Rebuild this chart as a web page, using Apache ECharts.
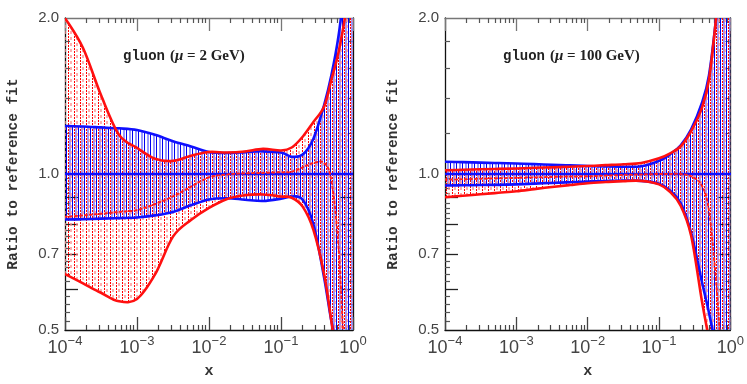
<!DOCTYPE html>
<html>
<head>
<meta charset="utf-8">
<script src="https://cdn.jsdelivr.net/npm/echarts@6/dist/echarts.min.js"></script>
<style>
  html, body { margin: 0; padding: 0; background: #fff; }
  #main { width: 747px; height: 384px; }
</style>
</head>
<body>
<div id="main"></div>
<script>
// x grid shared by all curves
var xs = [1e-4, 1.78e-4, 3.16e-4, 5.62e-4, 1e-3, 1.78e-3, 3.16e-3, 5.62e-3, 1e-2, 1.78e-2, 3.16e-2, 5.62e-2,
          0.1, 0.141, 0.2, 0.282, 0.398, 0.501, 0.631, 0.794, 1.0];

// gluon, mu = 2 GeV
var blueUp2  = [1.238, 1.235, 1.23, 1.225, 1.216, 1.19, 1.157, 1.13, 1.103, 1.098, 1.102, 1.106, 1.10, 1.08, 1.09, 1.17, 1.36, 1.55, 1.85, 2.4, 3.2];
var blueLo2  = [0.817, 0.818, 0.82, 0.822, 0.824, 0.832, 0.845, 0.87, 0.893, 0.898, 0.892, 0.887, 0.896, 0.905, 0.892, 0.80, 0.63, 0.52, 0.45, 0.38, 0.3];
var redUp2   = [2.0, 1.75, 1.42, 1.19, 1.123, 1.07, 1.06, 1.085, 1.103, 1.10, 1.105, 1.118, 1.11, 1.125, 1.18, 1.26, 1.35, 1.52, 1.72, 2.05, 2.6];
var redLo2   = [0.641, 0.615, 0.59, 0.568, 0.574, 0.64, 0.757, 0.815, 0.86, 0.895, 0.91, 0.913, 0.905, 0.90, 0.865, 0.78, 0.64, 0.52, 0.42, 0.35, 0.3];
var redMid2  = [0.827, 0.832, 0.838, 0.845, 0.852, 0.875, 0.905, 0.945, 0.985, 0.998, 1.003, 1.005, 1.008, 1.01, 1.03, 1.05, 1.05, 0.97, 0.72, 0.4, 0.3];

// gluon, mu = 100 GeV
var blueUp100 = [1.056, 1.054, 1.052, 1.05, 1.048, 1.045, 1.042, 1.039, 1.036, 1.034, 1.033, 1.035, 1.06, 1.09, 1.135, 1.22, 1.37, 1.55, 2.0, 2.8, 4.0];
var blueLo100 = [0.95, 0.951, 0.952, 0.953, 0.955, 0.958, 0.961, 0.964, 0.967, 0.969, 0.971, 0.97, 0.958, 0.93, 0.88, 0.77, 0.62, 0.54, 0.46, 0.38, 0.3];
var redUp100  = [1.017, 1.019, 1.021, 1.023, 1.025, 1.028, 1.03, 1.033, 1.036, 1.04, 1.044, 1.05, 1.072, 1.095, 1.13, 1.21, 1.34, 1.52, 2.0, 2.8, 4.0];
var redLo100  = [0.902, 0.908, 0.914, 0.92, 0.926, 0.935, 0.944, 0.952, 0.96, 0.965, 0.969, 0.97, 0.955, 0.925, 0.87, 0.76, 0.57, 0.48, 0.4, 0.34, 0.3];
var redMid100 = [0.975, 0.977, 0.979, 0.981, 0.983, 0.985, 0.987, 0.989, 0.99, 0.993, 0.996, 0.998, 1.0, 1.0, 1.0, 0.99, 0.95, 0.85, 0.62, 0.4, 0.3];

var refLine = [1, 1, 1, 1, 1, 1, 1, 1, 1, 1, 1, 1, 1, 1, 1, 1, 1, 1, 1, 1, 1];
var titles = ['2 GeV', '100 GeV'];

// ticks
var yLabelVals = [0.5, 0.7, 1.0, 2.0];
var yLongTicks = [0.6, 0.7, 0.8, 0.9];
var yShortTicks = [1.2, 1.4, 1.6, 1.8, 0.52, 0.54, 0.56, 0.58, 0.62, 0.64, 0.66, 0.68, 0.72, 0.74, 0.76, 0.78,
                   0.82, 0.84, 0.86, 0.88, 0.92, 0.94, 0.96, 0.98];
var xDecades = [-4, -3, -2, -1, 0];
var xMinor = [];
xDecades.slice(0, 4).forEach(function (d) {
  for (var k = 2; k <= 9; k++) xMinor.push(d + Math.log10(k));
});

var L = function (v) { return Math.log10(v); };
var yMin = L(0.5), yMax = L(2);

function hatch(kind) {
  var c = document.createElement('canvas');
  c.width = 6; c.height = 6;
  var g = c.getContext('2d');
  if (kind === 'blue') {
    g.fillStyle = '#0000f0';
    g.fillRect(0, 0, 1, 6);
    g.fillStyle = 'rgba(120,120,255,0.75)';
    g.fillRect(3, 0, 2, 6);
  } else {
    g.fillStyle = '#ff0000';
    g.fillRect(2, 0, 1, 2);
    g.fillRect(2, 3, 1, 2);
    g.fillStyle = 'rgba(255,140,140,0.7)';
    g.fillRect(4, 1, 2, 3);
  }
  return c;
}
var blueHatch = hatch('blue'), redHatch = hatch('red');

// catmull-rom through pixel points, as svg path commands
function spline(p, start) {
  var s = (start ? 'M' : 'L') + p[0][0] + ' ' + p[0][1];
  for (var i = 0; i < p.length - 1; i++) {
    var p0 = p[i - 1] || p[i], p1 = p[i], p2 = p[i + 1], p3 = p[i + 2] || p[i + 1];
    s += ' C' + (p1[0] + (p2[0] - p0[0]) / 6) + ' ' + (p1[1] + (p2[1] - p0[1]) / 6) + ' ' +
         (p2[0] - (p3[0] - p1[0]) / 6) + ' ' + (p2[1] - (p3[1] - p1[1]) / 6) + ' ' + p2[0] + ' ' + p2[1];
  }
  return s;
}

var grids = [
  { left: 65, right: 394, top: 18, bottom: 49 },
  { left: 445, right: 14, top: 18, bottom: 49 }
];

var xAxes = [], yAxes = [], series = [];
var monoFont = '"Liberation Mono", "DejaVu Sans Mono", monospace';

function bandSeries(gi, up, lo, pat) {
  var rows = xs.map(function (x, i) { return [L(x), L(lo[i]), L(up[i])]; });
  return {
    type: 'custom', xAxisIndex: gi * 4, yAxisIndex: gi * 4, silent: true, clip: true,
    data: rows, encode: { x: 0, y: [1, 2] },
    renderItem: function (params, api) {
      if (params.dataIndex !== 0) return null;
      var top = rows.map(function (r) { return api.coord([r[0], r[2]]); });
      var bot = rows.map(function (r) { return api.coord([r[0], r[1]]); }).reverse();
      return {
        type: 'path',
        shape: { pathData: spline(top, true) + ' ' + spline(bot, false) + ' Z' },
        style: { fill: { image: pat, repeat: 'repeat' }, stroke: null }
      };
    }
  };
}

function curveSeries(gi, ys, color, width, dash) {
  var rows = xs.map(function (x, i) { return [L(x), L(ys[i])]; });
  return {
    type: 'custom', xAxisIndex: gi * 4, yAxisIndex: gi * 4, silent: true, clip: true,
    data: rows, encode: { x: 0, y: 1 },
    renderItem: function (params, api) {
      if (params.dataIndex !== 0) return null;
      var p = rows.map(function (r) { return api.coord(r); });
      return {
        type: 'path',
        shape: { pathData: spline(p, true) },
        style: { fill: null, stroke: color, lineWidth: width, lineDash: dash || null, lineCap: 'round' }
      };
    }
  };
}

grids.forEach(function (gr, gi) {
  var base = {
    gridIndex: gi, type: 'value', min: -4, max: 0,
    splitLine: { show: false }, axisLabel: { show: false }
  };
  xAxes.push(Object.assign({}, base, {
    position: 'bottom',
    axisLine: { show: true, onZero: false, lineStyle: { color: '#111', width: 1.3 } },
    axisTick: { inside: true, length: 13, customValues: xDecades, lineStyle: { color: '#444', width: 1.3 } },
    axisLabel: {
      show: true, customValues: xDecades, margin: 3, showMinLabel: true, showMaxLabel: true,
      formatter: function (v) {
        var e = Math.round(v);
        return '{b|10}{s|' + (e === 0 ? '0' : '\u2212' + (-e)) + '}';
      },
      rich: {
        b: { fontSize: 18, fontFamily: 'Liberation Sans', color: '#444', padding: [6, 0, 0, 0] },
        s: { fontSize: 13, fontFamily: 'Liberation Sans', color: '#444', padding: [0, 0, 8, 0] }
      }
    },
    name: 'x', nameLocation: 'middle', nameGap: 34,
    nameTextStyle: { fontFamily: monoFont, fontWeight: 'bold', fontSize: 15, color: '#333' }
  }));
  xAxes.push(Object.assign({}, base, {
    position: 'bottom',
    axisLine: { show: false, onZero: false },
    axisTick: { inside: true, length: 5, customValues: xMinor, lineStyle: { color: '#444', width: 1.2 } }
  }));
  xAxes.push(Object.assign({}, base, {
    position: 'top',
    axisLine: { show: true, onZero: false, lineStyle: { color: '#777', width: 1.3 } },
    axisTick: { inside: true, length: 13, customValues: xDecades, lineStyle: { color: '#777', width: 1.3 } }
  }));
  xAxes.push(Object.assign({}, base, {
    position: 'top',
    axisLine: { show: false, onZero: false },
    axisTick: { inside: true, length: 5, customValues: xMinor, lineStyle: { color: '#555', width: 1.2 } }
  }));

  var ybase = {
    gridIndex: gi, type: 'value', min: yMin, max: yMax,
    splitLine: { show: false }, axisLabel: { show: false }
  };
  yAxes.push(Object.assign({}, ybase, {
    position: 'left',
    axisLine: { show: true, onZero: false, lineStyle: { color: '#111', width: 1.3 } },
    axisTick: { inside: true, length: 13, customValues: yLongTicks.map(L), lineStyle: { color: '#222', width: 1.3 } },
    axisLabel: {
      show: true, customValues: yLabelVals.map(L), margin: 6,
      formatter: function (v) { return Math.pow(10, v).toFixed(1); },
      fontFamily: 'Liberation Sans', fontSize: 15, color: '#444'
    },
    name: 'Ratio to reference fit', nameLocation: 'middle', nameRotate: 90, nameGap: 44,
    nameTextStyle: { fontFamily: monoFont, fontWeight: 'bold', fontSize: 14.5, color: '#333' }
  }));
  yAxes.push(Object.assign({}, ybase, {
    position: 'left',
    axisLine: { show: false, onZero: false },
    axisTick: { inside: true, length: 5, customValues: yShortTicks.map(L), lineStyle: { color: '#555', width: 1.2 } }
  }));
  yAxes.push(Object.assign({}, ybase, {
    position: 'right',
    axisLine: { show: true, onZero: false, lineStyle: { color: '#111', width: 1.3 } },
    axisTick: { inside: true, length: 13, customValues: yLongTicks.map(L), lineStyle: { color: '#222', width: 1.3 } }
  }));
  yAxes.push(Object.assign({}, ybase, {
    position: 'right',
    axisLine: { show: false, onZero: false },
    axisTick: { inside: true, length: 5, customValues: yShortTicks.map(L), lineStyle: { color: '#555', width: 1.2 } }
  }));

  var bu = gi === 0 ? blueUp2 : blueUp100, bl = gi === 0 ? blueLo2 : blueLo100;
  var ru = gi === 0 ? redUp2 : redUp100, rl = gi === 0 ? redLo2 : redLo100;
  var rm = gi === 0 ? redMid2 : redMid100;

  series.push(bandSeries(gi, bu, bl, blueHatch));
  series.push(bandSeries(gi, ru, rl, redHatch));
  series.push(curveSeries(gi, bu, '#1010ff', 2.6));
  series.push(curveSeries(gi, bl, '#1010ff', 2.6));
  series.push(curveSeries(gi, refLine, '#1010ff', 2.6));
  series.push(curveSeries(gi, rm, '#ff2020', 2, [2, 3]));
  series.push(curveSeries(gi, ru, '#ff1010', 2.6));
  series.push(curveSeries(gi, rl, '#ff1010', 2.6));
});

var titleCfg = titles.map(function (s, i) {
  return {
    text: '{g|gluon} {r|(}{m|\u03bc}{r| = ' + s + ')}',
    left: i === 0 ? 118 : 498, top: 42,
    textStyle: {
      rich: {
        g: { fontFamily: monoFont, fontWeight: 'bold', fontSize: 14, color: '#222' },
        r: { fontFamily: '"Liberation Serif", "DejaVu Serif", serif', fontSize: 15, color: '#222' },
        m: { fontFamily: '"Liberation Serif", "DejaVu Serif", serif', fontStyle: 'italic', fontSize: 15, color: '#222' }
      }
    }
  };
});

var chart = echarts.init(document.getElementById('main'), null, { renderer: 'canvas' });
chart.setOption({
  animation: false,
  backgroundColor: '#fff',
  title: titleCfg,
  grid: grids,
  xAxis: xAxes,
  yAxis: yAxes,
  series: series
});
window.addEventListener('resize', chart.resize);
</script>
</body>
</html>
